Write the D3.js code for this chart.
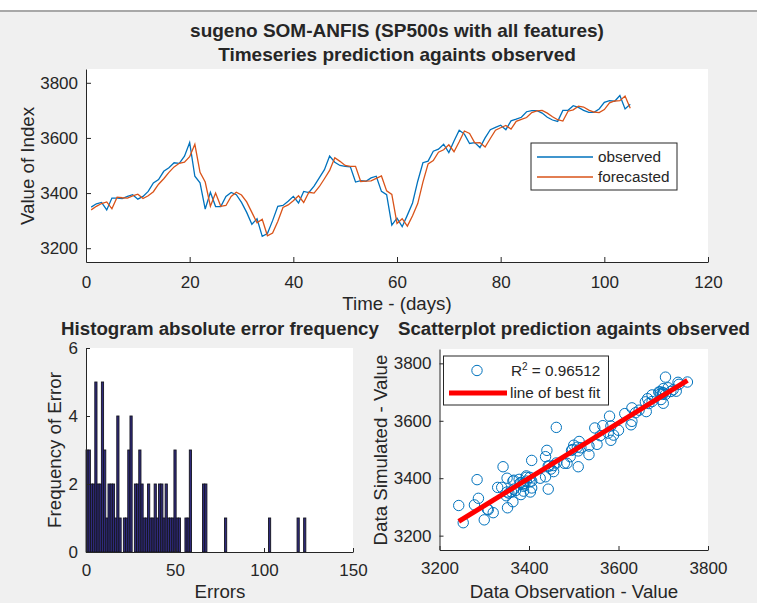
<!DOCTYPE html>
<html>
<head>
<meta charset="utf-8">
<script src="https://cdn.jsdelivr.net/npm/d3@7"></script>
<style>
  body { margin: 0; background: #f0f0f0; }
  svg { display: block; }
  text { font-family: "Liberation Sans", Arial, Helvetica, sans-serif; fill: #262626; }
</style>
</head>
<body>
<div id="chart"></div>
<script>
// SP500 index, day 1..105
const observed = [
  3349, 3361, 3366, 3339, 3382, 3382, 3380, 3388, 3394, 3378,
  3388, 3406, 3437, 3449, 3479, 3492, 3510, 3508, 3534, 3583,
  3461, 3437, 3342, 3403, 3351, 3351, 3388, 3402, 3394, 3366,
  3330, 3287, 3307, 3243, 3253, 3300, 3352, 3355, 3370, 3388,
  3364, 3406, 3402, 3425, 3455, 3485, 3534, 3512, 3500, 3497,
  3495, 3440, 3445, 3443, 3455, 3461, 3406, 3394, 3284, 3309,
  3278, 3320, 3364, 3443, 3510, 3516, 3552, 3559, 3577, 3547,
  3589, 3628, 3614, 3580, 3583, 3565, 3600, 3630, 3638, 3646,
  3630, 3662, 3668, 3675, 3695, 3699, 3699, 3690, 3675, 3665,
  3660, 3700, 3700, 3717, 3711, 3700, 3693, 3693, 3705, 3729,
  3735, 3733, 3754, 3705, 3722
];
const forecasted = [
  3339, 3352, 3362, 3368, 3343, 3385, 3383, 3382, 3390, 3396,
  3380, 3390, 3405, 3432, 3452, 3475, 3495, 3508, 3512, 3532,
  3577, 3475, 3440, 3352, 3400, 3352, 3355, 3388, 3403, 3393,
  3368, 3330, 3292, 3305, 3245, 3255, 3297, 3348, 3357, 3372,
  3390, 3366, 3403, 3400, 3423, 3452, 3482, 3528, 3515, 3500,
  3497, 3497, 3442, 3443, 3444, 3453, 3462, 3408, 3395, 3290,
  3307, 3280, 3318, 3362, 3440, 3506, 3518, 3548, 3557, 3575,
  3550, 3586, 3625, 3616, 3582, 3583, 3567, 3598, 3628, 3637,
  3645, 3632, 3660, 3667, 3674, 3692, 3698, 3700, 3690, 3677,
  3666, 3661, 3697, 3702, 3715, 3712, 3701, 3694, 3692, 3703,
  3727, 3734, 3735, 3752, 3708
];
const days = d3.range(1, observed.length + 1);

// histogram of absolute errors (non-empty bins only)
const binWidth = 1.235;
const binCenters = [
  0.62, 1.85, 3.09, 4.32, 5.56, 6.79, 8.03, 9.26, 10.50, 11.73,
  12.97, 14.20, 15.44, 16.67, 17.91, 19.14, 21.61, 22.85, 24.08, 25.32,
  27.79, 29.02, 30.26, 31.49, 32.73, 33.96, 35.20, 36.43, 37.67, 38.90,
  40.14, 41.37, 42.61, 43.84, 45.08, 46.31, 47.55, 48.78, 50.02, 51.25,
  52.49, 56.19, 57.43, 58.66, 66.08, 67.31, 78.43, 103.13, 119.19, 122.88
];
const binCounts = [
  3, 3, 2, 2, 5, 2, 2, 5, 3, 1,
  2, 2, 2, 1, 4, 1, 1, 1, 3, 4,
  2, 2, 3, 2, 1, 1, 2, 1, 1, 2,
  1, 2, 2, 1, 2, 1, 1, 1, 3, 1,
  1, 1, 1, 3, 2, 2, 1, 1, 1, 1
];

const topXTicks = [0, 20, 40, 60, 80, 100, 120];
const valueTicks = [3200, 3400, 3600, 3800];
const histXTicks = [0, 50, 100, 150];
const histYTicks = [0, 2, 4, 6];
const rSquared = "0.96512";

const blue = "#0072bd", orange = "#d95319", ink = "#262626";
const width = 757, height = 603;
const plain = d => d;

const svg = d3.select("#chart").append("svg")
  .attr("width", width)
  .attr("height", height);

svg.append("rect").attr("width", width).attr("height", height).attr("fill", "#f0f0f0");
svg.append("rect").attr("width", width).attr("height", 10).attr("fill", "#fff");
svg.append("rect").attr("y", 10).attr("width", width).attr("height", 2).attr("fill", "#a8a8a8");

function styleAxis(g, size) {
  g.attr("font-family", null).attr("font-size", null);
  g.selectAll("path, line").attr("stroke", ink);
  g.selectAll("text").attr("font-size", size).style("fill", ink);
}

// ---------- top: timeseries ----------
const x1 = d3.scaleLinear([0, 120], [86, 708]);
const y1 = d3.scaleLinear([3150, 3850], [262, 69]);

svg.append("rect")
  .attr("x", x1(0)).attr("y", y1(3850))
  .attr("width", x1(120) - x1(0)).attr("height", y1(3150) - y1(3850))
  .attr("fill", "#fff");

const line1 = (ys) => d3.line().x((d, i) => x1(days[i])).y(d => y1(d))(ys);

svg.append("path").attr("d", line1(observed))
  .attr("fill", "none").attr("stroke", blue).attr("stroke-width", 1.3);
svg.append("path").attr("d", line1(forecasted))
  .attr("fill", "none").attr("stroke", orange).attr("stroke-width", 1.3);

svg.append("g")
  .attr("transform", "translate(0," + y1(3150) + ")")
  .call(d3.axisBottom(x1).tickValues(topXTicks).tickFormat(plain)
    .tickSizeInner(-5).tickSizeOuter(0).tickPadding(14))
  .call(g => styleAxis(g, 17));
svg.append("g")
  .attr("transform", "translate(" + x1(0) + ",0)")
  .call(d3.axisLeft(y1).tickValues(valueTicks).tickFormat(plain)
    .tickSizeInner(-5).tickSizeOuter(0).tickPadding(8))
  .call(g => styleAxis(g, 17));

svg.append("text").attr("x", 397).attr("y", 37)
  .attr("text-anchor", "middle").attr("font-size", 19).attr("font-weight", "bold")
  .text("sugeno SOM-ANFIS (SP500s with all features)");
svg.append("text").attr("x", 397).attr("y", 61)
  .attr("text-anchor", "middle").attr("font-size", 19).attr("font-weight", "bold")
  .text("Timeseries prediction againts observed");
svg.append("text").attr("x", 397).attr("y", 310)
  .attr("text-anchor", "middle").attr("font-size", 18.7)
  .text("Time - (days)");
svg.append("text")
  .attr("transform", "translate(34,166) rotate(-90)")
  .attr("text-anchor", "middle").attr("font-size", 18.7)
  .text("Value of Index");

// legend
const lg = svg.append("g");
lg.append("rect").attr("x", 531).attr("y", 143).attr("width", 146).attr("height", 47)
  .attr("fill", "#fff").attr("stroke", ink).attr("stroke-width", 1);
[["observed", blue], ["forecasted", orange]].forEach(([name, c], i) => {
  const yy = 157 + i * 20;
  lg.append("line").attr("x1", 537).attr("x2", 593).attr("y1", yy).attr("y2", yy)
    .attr("stroke", c).attr("stroke-width", 1.3);
  lg.append("text").attr("x", 598).attr("y", yy).attr("dy", "0.35em")
    .attr("font-size", 15.3).text(name);
});

// ---------- bottom left: histogram ----------
const x2 = d3.scaleLinear([0, 150], [86, 353]);
const y2 = d3.scaleLinear([0, 6], [552, 348]);

svg.append("rect")
  .attr("x", x2(0)).attr("y", y2(6))
  .attr("width", x2(150) - x2(0)).attr("height", y2(0) - y2(6))
  .attr("fill", "#fff");

svg.append("g").selectAll("rect")
  .data(binCenters)
  .join("rect")
  .attr("x", d => x2(d - binWidth / 2))
  .attr("width", x2(binWidth) - x2(0))
  .attr("y", (d, i) => y2(binCounts[i]))
  .attr("height", (d, i) => y2(0) - y2(binCounts[i]))
  .attr("fill", "#2f2a7c")
  .attr("stroke", "#15151f")
  .attr("stroke-width", 0.9);

svg.append("g")
  .attr("transform", "translate(0," + y2(0) + ")")
  .call(d3.axisBottom(x2).tickValues(histXTicks).tickFormat(plain)
    .tickSizeInner(-4).tickSizeOuter(0).tickPadding(12))
  .call(g => styleAxis(g, 17));
svg.append("g")
  .attr("transform", "translate(" + x2(0) + ",0)")
  .call(d3.axisLeft(y2).tickValues(histYTicks).tickFormat(plain)
    .tickSizeInner(-4).tickSizeOuter(0).tickPadding(8))
  .call(g => styleAxis(g, 17));

svg.append("text").attr("x", 220).attr("y", 335)
  .attr("text-anchor", "middle").attr("font-size", 18.7).attr("font-weight", "bold")
  .text("Histogram absolute error frequency");
svg.append("text").attr("x", 220).attr("y", 598)
  .attr("text-anchor", "middle").attr("font-size", 18.7)
  .text("Errors");
svg.append("text")
  .attr("transform", "translate(61,450) rotate(-90)")
  .attr("text-anchor", "middle").attr("font-size", 18.7)
  .text("Frequency of Error");

// ---------- bottom right: scatter ----------
const x3 = d3.scaleLinear([3200, 3800], [439.5, 708]);
const y3 = d3.scaleLinear([3150, 3850], [550, 349]);

svg.append("rect")
  .attr("x", x3(3200)).attr("y", y3(3850))
  .attr("width", x3(3800) - x3(3200)).attr("height", y3(3150) - y3(3850))
  .attr("fill", "#fff");

svg.append("g").selectAll("circle")
  .data(observed)
  .join("circle")
  .attr("cx", d => x3(d))
  .attr("cy", (d, i) => y3(forecasted[i]))
  .attr("r", 5.2)
  .attr("fill", "none")
  .attr("stroke", blue)
  .attr("stroke-width", 1);

// least squares fit
const mx = d3.mean(observed), my = d3.mean(forecasted);
const sxy = d3.sum(observed, (d, i) => (d - mx) * (forecasted[i] - my));
const sxx = d3.sum(observed, d => (d - mx) * (d - mx));
const slope = sxy / sxx, intercept = my - slope * mx;
const fitX = d3.extent(observed);
svg.append("line")
  .attr("x1", x3(fitX[0])).attr("y1", y3(intercept + slope * fitX[0]))
  .attr("x2", x3(fitX[1])).attr("y2", y3(intercept + slope * fitX[1]))
  .attr("stroke", "#ff0000").attr("stroke-width", 5);

svg.append("g")
  .attr("transform", "translate(0," + y3(3150) + ")")
  .call(d3.axisBottom(x3).tickValues(valueTicks).tickFormat(plain)
    .tickSizeInner(-4).tickSizeOuter(0).tickPadding(12))
  .call(g => styleAxis(g, 17));
svg.append("g")
  .attr("transform", "translate(" + x3(3200) + ",0)")
  .call(d3.axisLeft(y3).tickValues(valueTicks).tickFormat(plain)
    .tickSizeInner(-4).tickSizeOuter(0).tickPadding(8))
  .call(g => styleAxis(g, 17));

svg.append("text").attr("x", 574).attr("y", 335)
  .attr("text-anchor", "middle").attr("font-size", 18.7).attr("font-weight", "bold")
  .text("Scatterplot prediction againts observed");
svg.append("text").attr("x", 574).attr("y", 598)
  .attr("text-anchor", "middle").attr("font-size", 18.7)
  .text("Data Observation - Value");
svg.append("text")
  .attr("transform", "translate(387,450) rotate(-90)")
  .attr("text-anchor", "middle").attr("font-size", 18.7)
  .text("Data Simulated - Value");

const sl = svg.append("g");
sl.append("rect").attr("x", 443.5).attr("y", 356).attr("width", 165).attr("height", 49)
  .attr("fill", "#fff").attr("stroke", ink).attr("stroke-width", 1);
sl.append("circle").attr("cx", 477).attr("cy", 370.5).attr("r", 5.2)
  .attr("fill", "none").attr("stroke", blue).attr("stroke-width", 1);
const rt = sl.append("text").attr("x", 511).attr("y", 376).attr("font-size", 15.3);
rt.append("tspan").text("R");
rt.append("tspan").attr("dy", -6).attr("font-size", 10).text("2");
rt.append("tspan").attr("dy", 6).text(" = " + rSquared);
sl.append("line").attr("x1", 449).attr("x2", 507).attr("y1", 393).attr("y2", 393)
  .attr("stroke", "#ff0000").attr("stroke-width", 5);
sl.append("text").attr("x", 510).attr("y", 398).attr("font-size", 15.3).text("line of best fit");
</script>
</body>
</html>
